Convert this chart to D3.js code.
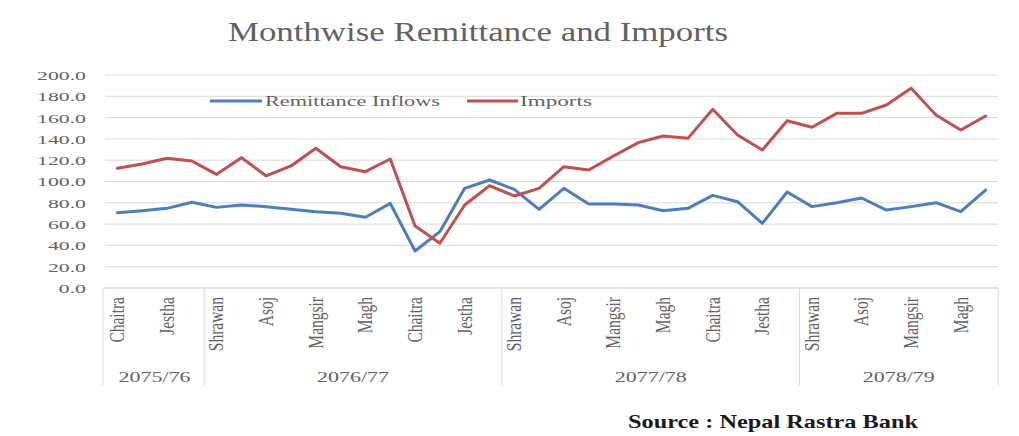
<!DOCTYPE html>
<html>
<head>
<meta charset="utf-8">
<script src="https://cdn.jsdelivr.net/npm/d3@7"></script>
<style>
  html, body { margin: 0; padding: 0; background: #ffffff; }
  svg { display: block; }
  text { font-family: "Liberation Serif", "Times New Roman", serif; }
</style>
</head>
<body>
<svg id="chart" width="1019" height="436"></svg>
<script>
// ---- data ----
const months = ["Chaitra","Baisakh","Jestha","Asar",
  "Shrawan","Bhadra","Asoj","Kartik","Mangsir","Poush","Magh","Falgun","Chaitra","Baisakh","Jestha","Asar",
  "Shrawan","Bhadra","Asoj","Kartik","Mangsir","Poush","Magh","Falgun","Chaitra","Baisakh","Jestha","Asar",
  "Shrawan","Bhadra","Asoj","Kartik","Mangsir","Poush","Magh","Falgun"];
const fiscalYears = ["2075/76","2076/77","2077/78","2078/79"];
const monthsPerYear = [4, 12, 12, 8];
const remittance = [70.7,72.6,74.8,80.5,75.7,77.9,76.4,73.9,71.7,
  70.1,66.4,79.5,34.7,52.9,93.6,101.4,92.6,73.9,
  93.6,78.9,78.9,77.9,72.6,74.8,87.0,81.0,60.7,
  90.1,76.4,80.1,84.5,73.2,76.4,80.1,71.7,92.0];
const imports = [112.4,116.4,121.8,119.2,106.7,122.4,105.2,114.6,131.2,
  113.9,109.2,121.1,58.2,42.0,77.9,96.0,86.4,93.6,
  113.9,110.8,123.9,136.5,142.7,140.5,167.8,143.7,129.6,
  157.1,150.9,164.0,164.0,171.8,187.5,162.4,148.4,161.5];
const yTicks = [0,20,40,60,80,100,120,140,160,180,200];
const seriesNames = ["Remittance Inflows","Imports"];
const seriesColors = ["#4a7ebf","#c0504d"];
const title = "Monthwise Remittance and Imports";
const source = "Source : Nepal Rastra Bank";

// ---- layout ----
const svg = d3.select("#chart");
const L = 105, R = 998, T = 75, B = 288;
const textColor = "#626262", gridColor = "#d9d9d9";

const idx = d3.range(months.length);
const x = d3.scalePoint().domain(idx).range([L, R]).padding(0.5);
const step = x.step();
const y = d3.scaleLinear().domain([0, 200]).range([B, T]);

// gridlines
svg.append("g").selectAll("line").data(yTicks).join("line")
  .attr("x1", L).attr("x2", R)
  .attr("y1", d => y(d)).attr("y2", d => y(d))
  .attr("stroke", gridColor).attr("stroke-width", 1);

// y axis labels
const yAxis = svg.append("g").attr("transform", `translate(${L},0)`)
  .call(d3.axisLeft(y).tickValues(yTicks).tickFormat(d3.format(".1f")).tickSize(0));
yAxis.select(".domain").remove();
const ySx = 1.7;
yAxis.selectAll("text")
  .attr("x", 0).attr("dy", "0.35em")
  .attr("font-size", 12.8).attr("fill", textColor)
  .attr("font-family", "Liberation Serif, serif")
  .attr("transform", `translate(-19,0) scale(${ySx},1)`);

// category axis frame
svg.append("line").attr("x1", 103).attr("x2", R).attr("y1", B).attr("y2", B)
  .attr("stroke", gridColor);
let acc = 0;
const bounds = [0];
monthsPerYear.forEach(n => { acc += n; bounds.push(acc); });
svg.append("g").selectAll("line").data(bounds).join("line")
  .attr("x1", (d, i) => i === 0 ? 103 : L + d * step)
  .attr("x2", (d, i) => i === 0 ? 103 : L + d * step)
  .attr("y1", B).attr("y2", 385)
  .attr("stroke", gridColor);

// month labels (every other)
svg.append("g").selectAll("text").data(idx.filter(i => i % 2 === 0)).join("text")
  .attr("transform", i => `translate(${x(i)},297) scale(1.3,1) rotate(-90)`)
  .attr("text-anchor", "end").attr("dy", "0.34em")
  .attr("font-size", 15.5).attr("fill", textColor)
  .text(i => months[i]);

// fiscal year labels
svg.append("g").selectAll("text").data(fiscalYears).join("text")
  .attr("x", (d, i) => L + (bounds[i] + bounds[i + 1]) / 2 * step)
  .attr("y", 382)
  .attr("text-anchor", "middle")
  .attr("font-size", 15).attr("fill", textColor)
  .attr("textLength", 72).attr("lengthAdjust", "spacingAndGlyphs")
  .text(d => d);

// lines
const line = d3.line().x((d, i) => x(i)).y(d => y(d));
[remittance, imports].forEach((s, k) => {
  svg.append("path").datum(s)
    .attr("d", line)
    .attr("fill", "none")
    .attr("stroke", seriesColors[k])
    .attr("stroke-width", 3)
    .attr("stroke-linejoin", "round")
    .attr("stroke-linecap", "round");
});

// legend
const legend = [
  { x1: 210, x2: 262, tx: 265, tw: 175 },
  { x1: 467, x2: 518, tx: 520, tw: 72 }
];
legend.forEach((l, k) => {
  svg.append("line").attr("x1", l.x1).attr("x2", l.x2).attr("y1", 101).attr("y2", 101)
    .attr("stroke", seriesColors[k]).attr("stroke-width", 3);
  svg.append("text").attr("x", l.tx).attr("y", 106)
    .attr("font-size", 15).attr("fill", textColor)
    .attr("textLength", l.tw).attr("lengthAdjust", "spacingAndGlyphs")
    .text(seriesNames[k]);
});

// title
svg.append("text").attr("x", 228).attr("y", 41)
  .attr("font-size", 27).attr("fill", textColor)
  .attr("textLength", 500).attr("lengthAdjust", "spacingAndGlyphs")
  .text(title);

// source
svg.append("text").attr("x", 628).attr("y", 428)
  .attr("font-size", 19).attr("font-weight", "bold").attr("fill", "#1a1a1a")
  .attr("textLength", 290).attr("lengthAdjust", "spacingAndGlyphs")
  .text(source);
</script>
</body>
</html>
